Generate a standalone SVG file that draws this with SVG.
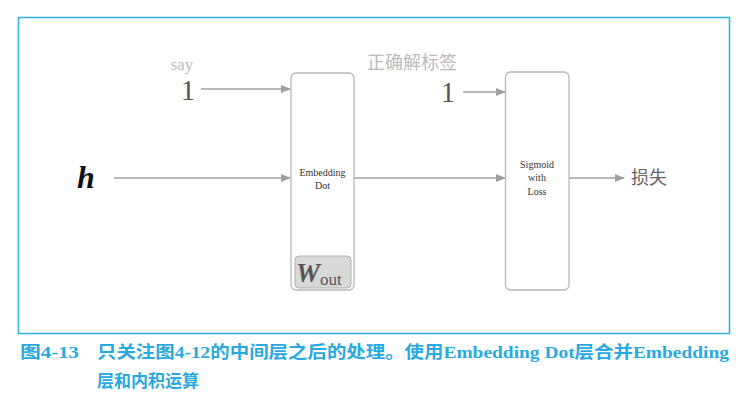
<svg xmlns="http://www.w3.org/2000/svg" width="750" height="403" viewBox="0 0 750 403">
<style>
.box{fill:#fff;stroke:#b8b8b8;stroke-width:1.3}
.ln{stroke:#a0a0a0;stroke-width:1.3;fill:none}
.serif{font-family:"Liberation Serif","DejaVu Serif","Noto Serif",serif}
.lbl{font-family:"Liberation Serif","DejaVu Serif",serif;font-size:10px;fill:#333;text-anchor:middle}
.one{font-family:"Liberation Serif","DejaVu Serif",serif;font-size:29px;fill:#555}
.gray{font-family:"Liberation Serif","DejaVu Serif",serif;fill:#bbb}
.cjk{font-family:"Noto Sans CJK SC",sans-serif}
.cap{font-family:"Liberation Serif","DejaVu Serif","Noto Sans CJK SC",serif;font-size:17px;fill:#29a9e0;font-weight:bold}
</style>
<defs>
<marker id="ar" markerWidth="10" markerHeight="8" refX="9" refY="4" orient="auto" markerUnits="userSpaceOnUse">
<path d="M0,0 L10,4 L0,8 Z" fill="#a0a0a0"/>
</marker>
</defs>
<rect x="18.5" y="17.5" width="711" height="316" fill="#fff" stroke="#3ab2e6" stroke-width="1.6"/>
<g id="connectors">
<line class="ln" x1="201" y1="89" x2="290" y2="89" marker-end="url(#ar)"/>
<line class="ln" x1="114" y1="178" x2="290" y2="178" marker-end="url(#ar)"/>
<line class="ln" x1="354" y1="178" x2="505" y2="178" marker-end="url(#ar)"/>
<line class="ln" x1="463" y1="92" x2="505" y2="92" marker-end="url(#ar)"/>
<line class="ln" x1="569" y1="178" x2="624" y2="178" marker-end="url(#ar)"/>
</g>
<g id="input-say">
<text class="gray" x="182" y="70" font-size="17" text-anchor="middle">say</text>
<text class="one" x="188" y="100" text-anchor="middle">1</text>
</g>
<g id="input-label">
<text class="gray cjk" x="412" y="69" font-size="18" text-anchor="middle">正确解标签</text>
<text class="one" x="448" y="102" text-anchor="middle">1</text>
</g>
<g id="input-h">
<text class="serif" x="86" y="188" font-size="32" font-weight="bold" font-style="italic" fill="#111" text-anchor="middle">h</text>
</g>
<g id="embedding-dot">
<rect class="box" x="291" y="73" width="63" height="217" rx="5"/>
<text class="lbl" x="322.5" y="176">Embedding</text>
<text class="lbl" x="322.5" y="189">Dot</text>
<rect x="295" y="256" width="56" height="32" rx="4" fill="#d8d8d8" stroke="#b0b0b0" stroke-width="1"/>
<text class="serif" x="296" y="282" font-size="27" font-weight="bold" font-style="italic" fill="#555">W<tspan font-size="17" font-weight="normal" font-style="normal" dy="3">out</tspan></text>
</g>
<g id="sigmoid-with-loss">
<rect class="box" x="505.5" y="72" width="63.5" height="218" rx="5"/>
<text class="lbl" x="537" y="168">Sigmoid</text>
<text class="lbl" x="537" y="181">with</text>
<text class="lbl" x="537" y="195">Loss</text>
</g>
<g id="loss">
<text class="cjk" x="631" y="184" font-size="18" fill="#666">损失</text>
</g>
<g id="caption">
<text class="cap" x="20" y="358" textLength="59" lengthAdjust="spacingAndGlyphs">图4-13</text>
<text class="cap" x="97" y="358" textLength="632" lengthAdjust="spacingAndGlyphs">只关注图4-12的中间层之后的处理。使用Embedding Dot层合并Embedding</text>
<text class="cap" x="97" y="387">层和内积运算</text>
</g>
</svg>
